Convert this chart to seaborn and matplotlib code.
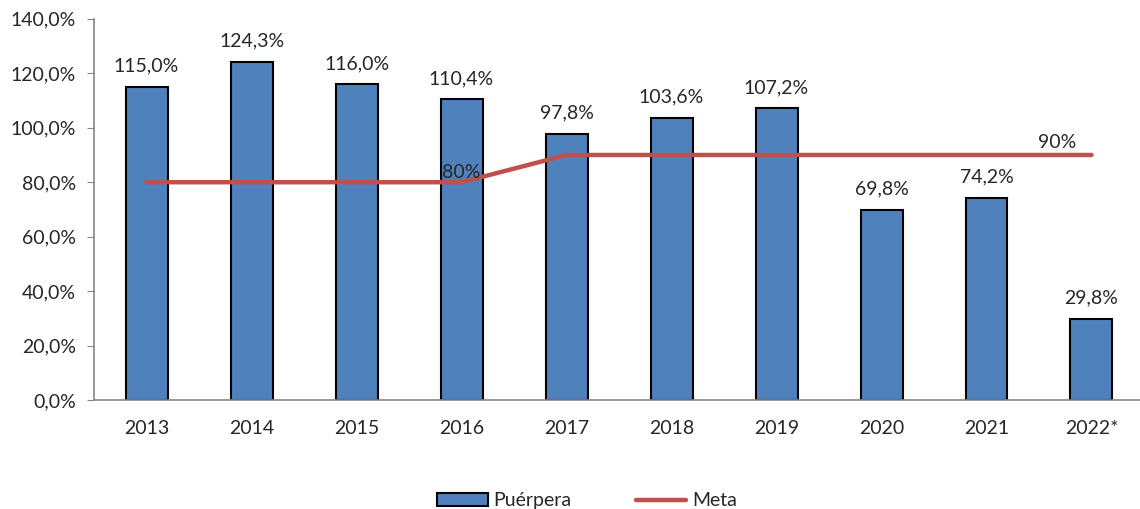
import numpy as np
import pandas as pd
import seaborn as sns
import matplotlib.pyplot as plt
from matplotlib.patches import Patch
from matplotlib.lines import Line2D

years = ['2013', '2014', '2015', '2016', '2017', '2018', '2019', '2020', '2021', '2022*']
puerpera = [115.0, 124.3, 116.0, 110.4, 97.8, 103.6, 107.2, 69.8, 74.2, 29.8]
meta = [80, 80, 80, 80, 90, 90, 90, 90, 90, 90]

bar_color = '#4F81BD'
line_color = '#C0504D'
fs = 14

sns.set_style('white')
plt.rcParams['font.family'] = ['Lato', 'DejaVu Sans']

df = pd.DataFrame({'year': years, 'puerpera': puerpera, 'meta': meta})

fig = plt.figure(figsize=(11.4, 5.09), dpi=100)
ax = fig.add_axes([0.0825, 0.214, 0.921, 0.749])

sns.barplot(data=df, x='year', y='puerpera', color=bar_color, width=0.4,
            edgecolor='black', linewidth=1.5, saturation=1, ax=ax, zorder=2)
ax.plot(range(len(years)), meta, color=line_color, lw=3.2, zorder=3,
        solid_capstyle='round')

for i, v in enumerate(puerpera):
    ax.text(i, v + 4.5, f'{v:.1f}%'.replace('.', ','), ha='center', va='bottom', fontsize=fs)
ax.text(3, 80.5, '80%', ha='center', va='bottom', fontsize=fs, zorder=4)
ax.text(9 - 0.33, 91.5, '90%', ha='center', va='bottom', fontsize=fs)

ax.set_xlim(-0.5, 9.5)
ax.set_ylim(0, 140)
ax.set_yticks(np.arange(0, 141, 20))
ax.set_yticklabels([f'{t:.1f}%'.replace('.', ',') for t in np.arange(0, 141, 20)], fontsize=fs)
ax.set_xticks(range(len(years)))
ax.set_xticklabels(years, fontsize=fs)
ax.set_xticks(np.arange(-0.5, 10, 1), minor=True)
ax.tick_params(axis='x', which='major', length=0, pad=14)
ax.tick_params(axis='x', which='minor', length=5, color='#868686', direction='out')
ax.tick_params(axis='y', length=5, color='#868686', direction='out', left=True, pad=8)
ax.set_xlabel('')
ax.set_ylabel('')
for s in ['top', 'right']:
    ax.spines[s].set_visible(False)
for s in ['left', 'bottom']:
    ax.spines[s].set_color('#868686')
    ax.spines[s].set_linewidth(1.2)

handles = [Patch(facecolor=bar_color, edgecolor='black', linewidth=1.5),
           Line2D([0], [0], color=line_color, lw=3.2, solid_capstyle='round')]
fig.legend(handles, ['Puérpera', 'Meta'], loc='lower center', bbox_to_anchor=(0.515, -0.035),
           ncol=2, frameon=False, fontsize=fs, handlelength=2.6, handleheight=0.7,
           handletextpad=0.3, columnspacing=3.3)

fig.savefig('out.png', dpi=100)
